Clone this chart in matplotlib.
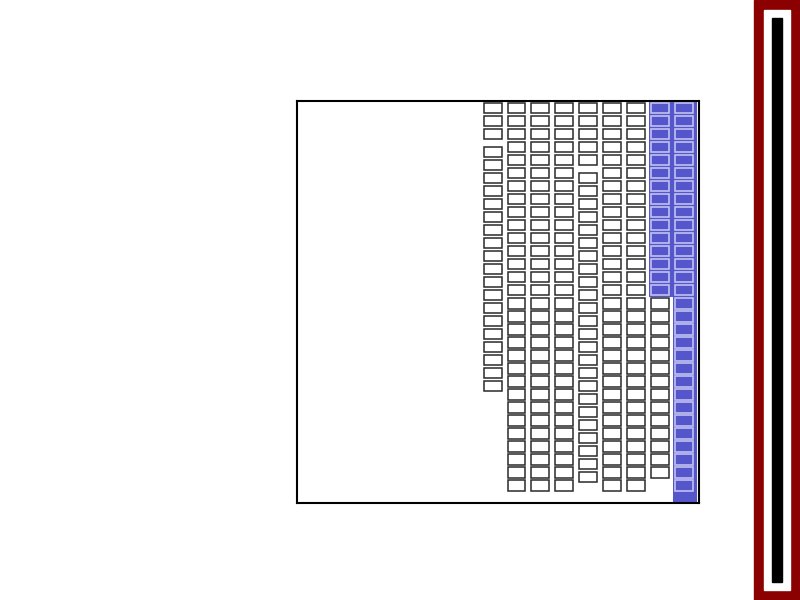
import matplotlib
matplotlib.use("Agg")
import matplotlib.pyplot as plt
from matplotlib.patches import Rectangle
import numpy as np

# ---- data ----
columns = [0, 1, 2, 3, 4, 5, 6, 7, 8]
cells_before_gap = [3, 30, 30, 30, 5, 30, 30, 29, 30]
cells_after_gap = [19, 0, 0, 0, 24, 0, 0, 0, 0]
highlighted_cells = [0, 0, 0, 0, 0, 0, 0, 15, 30]
highlight_band = [0, 0, 0, 0, 0, 0, 0, 15, 32]
gap_size = 0.37

fig = plt.figure(figsize=(8, 6), dpi=100)
ax = fig.add_axes([297/800, 97/600, 402/800, 402/600])

XMAX = 8.625
cell_h = 0.78
cell_w = 0.75
blue = "#5555CC"
blue_edge = "#C0C0F0"

# highlight bands
for x, band in zip(columns, highlight_band):
    if band > 0:
        w = min(1.0, XMAX - (x - 0.45))
        ax.bar(x - 0.45, band - 0.1 + 0.5, bottom=-0.5, width=w, align="edge",
               color=blue, edgecolor="none", zorder=1)

for x, nb, na, nh in zip(columns, cells_before_gap, cells_after_gap, highlighted_cells):
    bottoms = list(np.arange(nb, dtype=float)) + list(nb + gap_size + np.arange(na, dtype=float))
    for i, b in enumerate(bottoms):
        if i < nh:
            ax.bar(x, cell_h, bottom=b, width=cell_w, color=blue,
                   edgecolor=blue_edge, linewidth=1.2, zorder=2)
        else:
            ax.bar(x, cell_h, bottom=b, width=cell_w, color="white",
                   edgecolor="#2a2a2a", linewidth=1.1, zorder=2)

ax.set_xlim(-8.17, XMAX)
ax.set_ylim(30.74, -0.18)
ax.set_xticks([])
ax.set_yticks([])
for s in ax.spines.values():
    s.set_linewidth(1.5)
    s.set_color("black")

# right-side decoration
def px_rect(x0, y0, x1, y1, color):
    fig.patches.append(Rectangle((x0/800, 1 - y1/600), (x1 - x0)/800, (y1 - y0)/600,
                                 transform=fig.transFigure, color=color, zorder=0))

px_rect(754, 0, 800, 600, "#8B0000")
px_rect(764, 10, 790, 590, "white")
px_rect(772, 18, 782, 582, "black")

fig.savefig("out.png", dpi=100)
